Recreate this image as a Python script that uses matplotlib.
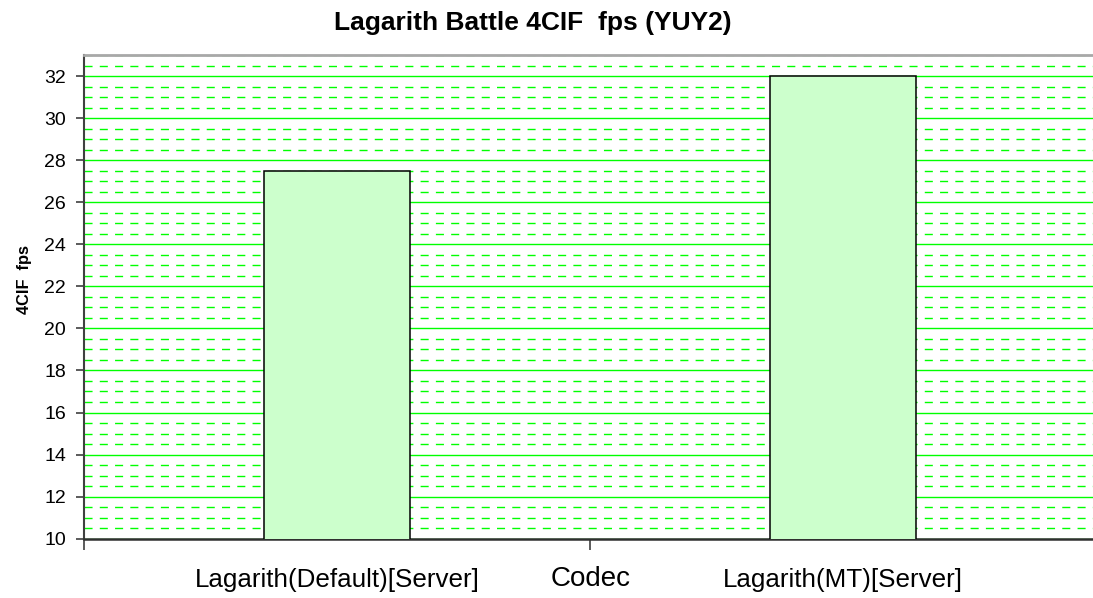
import matplotlib
matplotlib.use('Agg')
import matplotlib.pyplot as plt
import numpy as np
from matplotlib.ticker import MultipleLocator, FixedLocator

plt.rcParams['font.family'] = ['Liberation Sans', 'DejaVu Sans']

# data
codecs = ['Lagarith(Default)[Server]', 'Lagarith(MT)[Server]']
fps = [27.5, 32.0]
title = 'Lagarith Battle 4CIF  fps (YUY2)'
ylabel = '4CIF  fps'
xlabel = 'Codec'

fig = plt.figure(figsize=(10.93, 5.98), dpi=100, facecolor='white')
ax = fig.add_axes([84/1093, 59.3/598, 1012/1093, 483.7/598])

x = np.arange(len(codecs))
ax.bar(x, fps, width=0.287, color='#ccffcc', edgecolor='black', linewidth=1.1, zorder=3)

ax.set_xlim(-0.5, len(codecs) - 0.5)
ax.set_ylim(10, 33)

# y ticks and grid
ax.yaxis.set_major_locator(FixedLocator(np.arange(10, 33, 2)))
ax.yaxis.set_minor_locator(MultipleLocator(0.5))
ax.grid(which='major', axis='y', color='#00ff00', linewidth=1.0, zorder=1)
ax.grid(which='minor', axis='y', color='#00ff00', linewidth=1.0,
        linestyle=(0, (5.8, 5.2)), zorder=1)
ax.tick_params(axis='y', which='major', direction='out', length=6, width=1.2,
               labelsize=14, pad=7, color='#404040')
ax.tick_params(axis='y', which='minor', length=0)

# x ticks: labels at bar centres, marks at category boundaries
ax.set_xticks(x)
ax.set_xticklabels(codecs)
ax.set_xticks(np.arange(-0.5, len(codecs)), minor=True)
ax.tick_params(axis='x', which='major', length=0, labelsize=18.7, pad=21)
ax.tick_params(axis='x', which='minor', direction='out', length=8, width=1.2, color='#404040')

ax.spines['left'].set_color('#404040')
ax.spines['left'].set_linewidth(1.5)
ax.spines['bottom'].set_color('#303030')
ax.spines['bottom'].set_linewidth(1.8)
ax.spines['top'].set_color('#a8a8a8')
ax.spines['top'].set_linewidth(2)
ax.spines['right'].set_visible(False)

fig.text(533/1093, 1 - 23/598, title, ha='center', va='center',
         fontsize=19, fontweight='bold')
fig.text(25/1093, 1 - 279/598, ylabel, ha='center', va='center',
         rotation=90, fontsize=11.8, fontweight='bold')
fig.text(591/1093, 1 - 579/598, xlabel, ha='center', va='center', fontsize=20)

fig.savefig('out.png', dpi=100)
